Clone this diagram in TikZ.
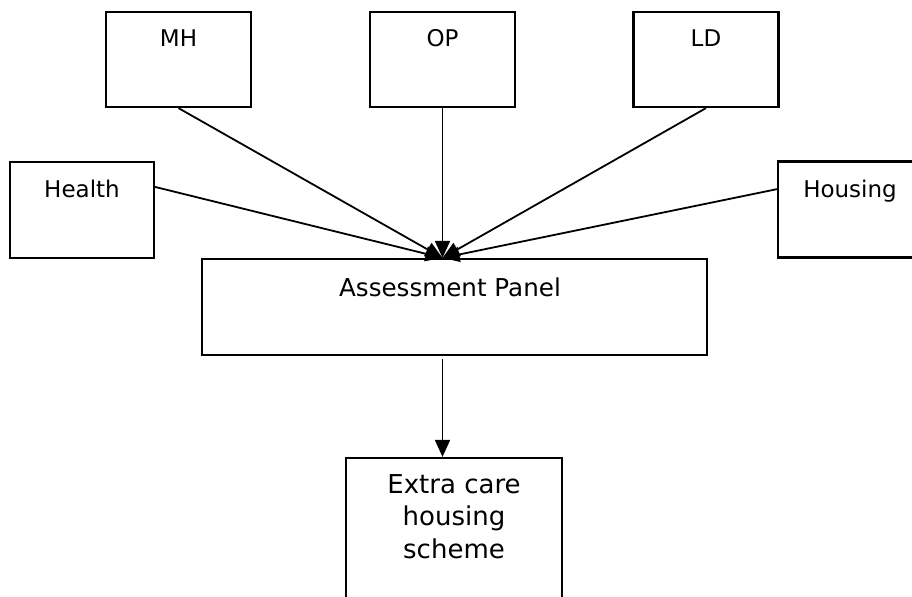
\documentclass[tikz,border=0pt]{standalone}
\usepackage{fontspec}
\setmainfont{DejaVu Sans}
\usetikzlibrary{arrows.meta}

\begin{document}
\begin{tikzpicture}[x=0.5pt, y=-0.5pt,
	box/.style = {draw, line width=1.1pt, inner sep=0pt, minimum width=72.5pt, minimum height=47.5pt},
	txt/.style = {inner sep=0pt, anchor=base, font=\fontsize{11.5}{14}\selectfont},
	feed/.style = {line width=0.9pt, -{Triangle[length=8.5pt,width=7.5pt]}}]
	\clip (0,0) rectangle (912,596);
	% services
	\node[box] (MH) at (178.5,59.5) {};
	\node[box] (OP) at (442.5,59.5) {};
	\node[box] (LD) at (706,59.5) {};
	\node[txt] (MH-t) at (178.5,46.7) {MH};
	\node[txt] (OP-t) at (442.5,46.7) {OP};
	\node[txt] (LD-t) at (706,46.7) {LD};
	\node[box, minimum width=72pt, minimum height=48pt] (Health) at (82,210) {};
	\node[box, minimum width=72pt, minimum height=48pt] (Housing) at (850,209.5) {};
	\node[txt] (Health-t) at (82,197.5) {Health};
	\node[txt] (Housing-t) at (850,197.5) {Housing};
	% panel
	\node[box, minimum width=252.5pt, minimum height=48pt] (AP) at (454.5,307) {};
	\node[txt, font=\fontsize{12.3}{15}\selectfont] (AP-t) at (450,296) {Assessment Panel};
	\node[box, minimum width=108pt, minimum height=75pt] (ECH) at (454,533) {};
	\node[txt, anchor=north, align=center, font=\fontsize{13}{16.25}\selectfont] (ECH-t) at (454,474) {Extra care\\housing\\scheme};
	\draw[feed] (MH.south) -- (OP.south |- AP.north);
	\draw[feed] (OP.south) -- (OP.south |- AP.north);
	\draw[feed] (LD.south) -- (OP.south |- AP.north);
	\draw[feed] ([yshift=1pt]Health.east |- Health-t.center) -- (OP.south |- AP.north);
	\draw[feed] ([yshift=1pt]Housing.west |- Housing-t.center) -- (OP.south |- AP.north);
	\draw[feed] ([yshift=-1.5pt]OP.south |- AP.south) -- (OP.south |- ECH.north);
\end{tikzpicture}
\end{document}
